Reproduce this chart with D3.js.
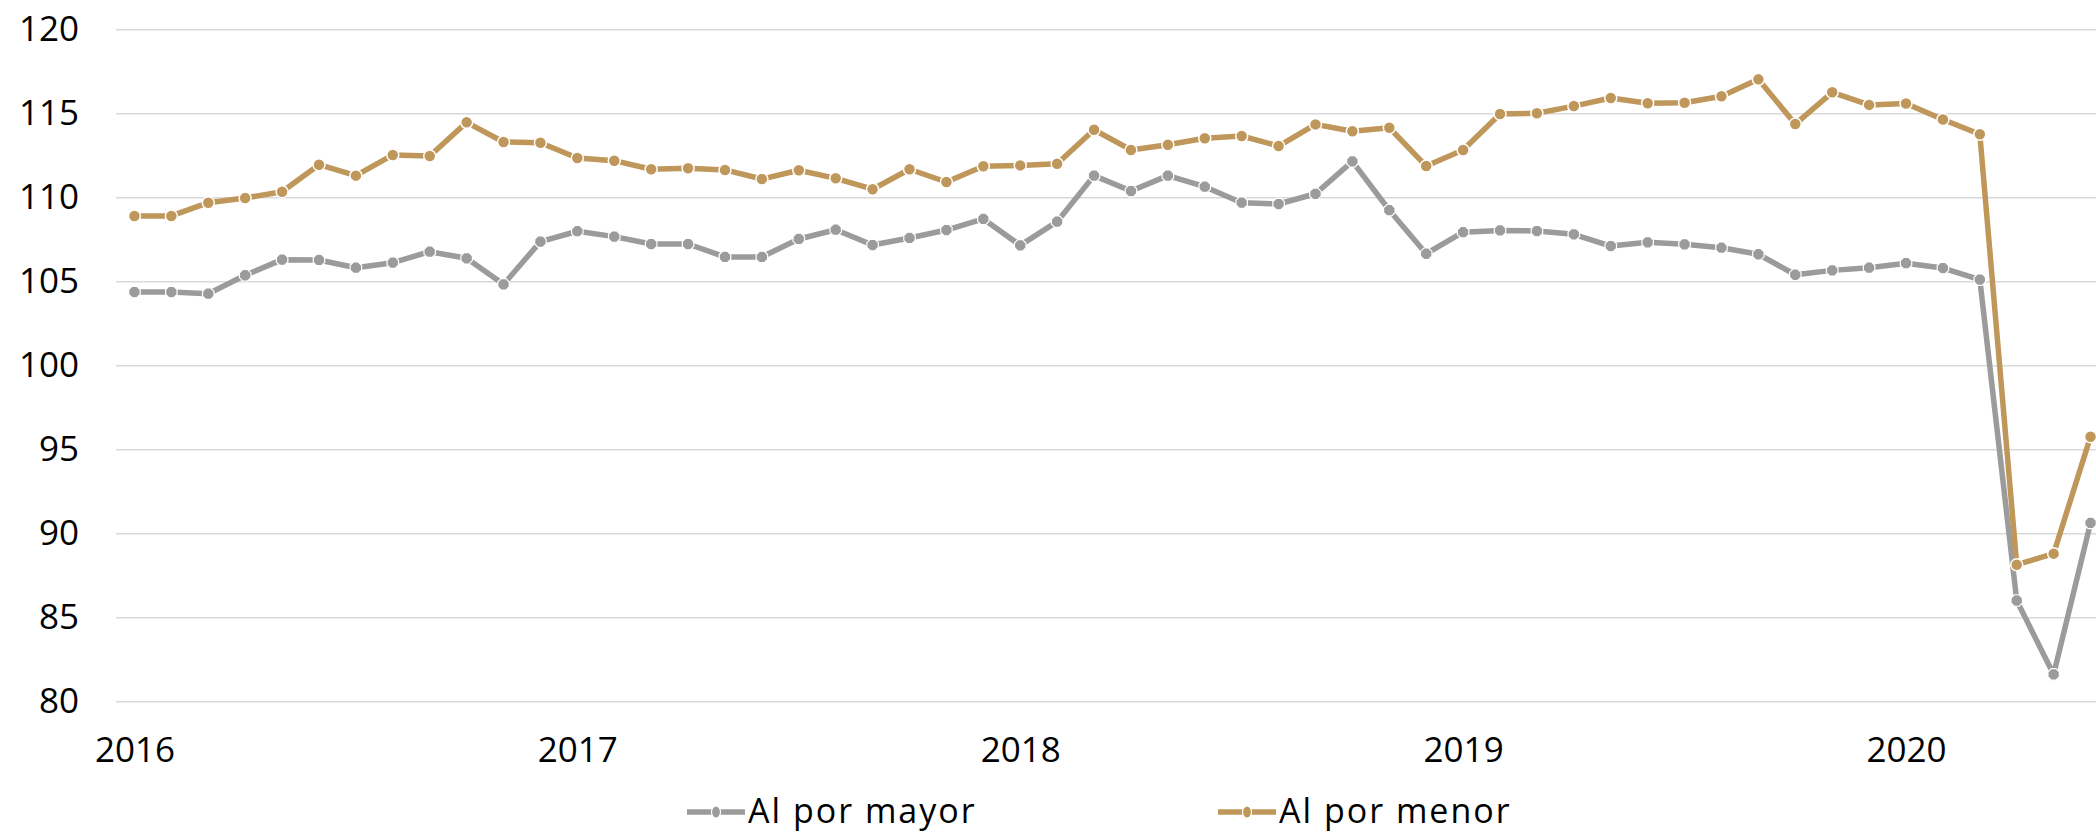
<!DOCTYPE html>
<html>
<head>
<meta charset="utf-8">
<script src="https://cdn.jsdelivr.net/npm/d3@7"></script>
<style>
  body { margin: 0; background: #ffffff; }
  svg { display: block; font-family: "Open Sans", "Noto Sans", sans-serif; }
</style>
</head>
<body>
<div id="chart"></div>
<script>
// ***** Data *****
var months = [
  "ene-16","feb-16","mar-16","abr-16","may-16","jun-16","jul-16","ago-16","sep-16","oct-16","nov-16","dic-16",
  "ene-17","feb-17","mar-17","abr-17","may-17","jun-17","jul-17","ago-17","sep-17","oct-17","nov-17","dic-17",
  "ene-18","feb-18","mar-18","abr-18","may-18","jun-18","jul-18","ago-18","sep-18","oct-18","nov-18","dic-18",
  "ene-19","feb-19","mar-19","abr-19","may-19","jun-19","jul-19","ago-19","sep-19","oct-19","nov-19","dic-19",
  "ene-20","feb-20","mar-20","abr-20","may-20","jun-20"
];

// Al por mayor (grey)
var mayor = [
  104.36, 104.36, 104.26, 105.36, 106.29, 106.27, 105.81, 106.11, 106.76, 106.37, 104.82, 107.36,
  107.98, 107.66, 107.22, 107.22, 106.45, 106.45, 107.52, 108.07, 107.16, 107.58, 108.05, 108.71,
  107.14, 108.55, 111.29, 110.37, 111.29, 110.63, 109.68, 109.60, 110.21, 112.14, 109.23, 106.64,
  107.92, 108.03, 107.99, 107.80, 107.10, 107.32, 107.20, 107.00, 106.61, 105.39, 105.65, 105.81,
  106.08, 105.79, 105.10, 86.00, 81.60, 90.62
];

// Al por menor (gold)
var menor = [
  108.89, 108.89, 109.68, 109.96, 110.33, 111.94, 111.29, 112.52, 112.46, 114.46, 113.29, 113.25,
  112.34, 112.18, 111.67, 111.73, 111.63, 111.09, 111.61, 111.13, 110.48, 111.67, 110.91, 111.85,
  111.90, 112.00, 114.02, 112.82, 113.13, 113.51, 113.65, 113.05, 114.34, 113.93, 114.14, 111.86,
  112.82, 114.96, 115.00, 115.43, 115.91, 115.60, 115.63, 116.01, 117.02, 114.36, 116.25, 115.50,
  115.58, 114.63, 113.75, 88.13, 88.79, 95.75
];

var yearTicks = ["ene-16", "ene-17", "ene-18", "ene-19", "ene-20"];
var yearLabels = ["2016", "2017", "2018", "2019", "2020"];
var yTicks = [80, 85, 90, 95, 100, 105, 110, 115, 120];
var seriesNames = ["Al por mayor", "Al por menor"];

// ***** Chart setup *****
var svgWidth = 2096;
var svgHeight = 833;
var plotLeft = 116;
var plotRight = 2109;   // last category is cut off by the picture edge
var plotTop = 29.3;
var plotBottom = 701.3;

var grey = "#9b9b9b";
var gold = "#c0975a";

var svg = d3.select("#chart").append("svg")
    .attr("width", svgWidth)
    .attr("height", svgHeight);

var xScale = d3.scalePoint()
    .domain(months)
    .range([plotLeft, plotRight])
    .padding(0.5);

var yScale = d3.scaleLinear()
    .domain([80, 120])
    .range([plotBottom, plotTop]);

// y axis + gridlines
var yAxis = svg.append("g")
    .attr("transform", `translate(${plotLeft}, 0)`)
    .call(d3.axisLeft(yScale)
        .tickValues(yTicks)
        .tickSize(-(svgWidth - plotLeft))
        .tickPadding(37));

yAxis.select(".domain").remove();
yAxis.selectAll(".tick line")
    .attr("stroke", "#d9d9d9")
    .attr("stroke-width", 1.5);
yAxis.selectAll(".tick text")
    .attr("fill", "#000")
    .attr("font-size", "35px")
    .attr("font-family", "'Open Sans', sans-serif");

// x axis (years only)
var xAxis = svg.append("g")
    .attr("transform", `translate(0, ${plotBottom})`)
    .call(d3.axisBottom(xScale)
        .tickValues(yearTicks)
        .tickFormat(function(d, i) { return yearLabels[i]; })
        .tickSize(0)
        .tickPadding(36));

xAxis.select(".domain").remove();
xAxis.selectAll(".tick text")
    .attr("fill", "#000")
    .attr("font-size", "35px")
    .attr("font-family", "'Open Sans', sans-serif");

// ***** Lines *****
var line = d3.line()
    .x(function(d, i) { return xScale(months[i]); })
    .y(function(d) { return yScale(d); });

// octagon marker for the grey series
function octagon(cx, cy, r) {
    var pts = d3.range(8).map(function(k) {
        var a = Math.PI / 8 + k * Math.PI / 4;
        return [cx + r * Math.cos(a), cy + r * Math.sin(a)];
    });
    return "M" + pts.join("L") + "Z";
}

function drawSeries(values, color, shape) {
    var g = svg.append("g");
    g.append("path")
        .datum(values)
        .attr("fill", "none")
        .attr("stroke", color)
        .attr("stroke-width", 5.5)
        .attr("stroke-linejoin", "round")
        .attr("d", line);

    if (shape === "circle") {
        g.selectAll("circle")
            .data(values)
            .enter()
            .append("circle")
            .attr("cx", function(d, i) { return xScale(months[i]); })
            .attr("cy", function(d) { return yScale(d); })
            .attr("r", 6)
            .attr("fill", color)
            .attr("stroke", "#fff")
            .attr("stroke-width", 1.5);
    } else {
        g.selectAll("path.marker")
            .data(values)
            .enter()
            .append("path")
            .classed("marker", true)
            .attr("d", function(d, i) { return octagon(xScale(months[i]), yScale(d), 6.2); })
            .attr("fill", color)
            .attr("stroke", "#fff")
            .attr("stroke-width", 1.2);
    }
}

drawSeries(mayor, grey, "octagon");
drawSeries(menor, gold, "circle");

// ***** Legend *****
var legendItems = [
    { name: seriesNames[0], color: grey, x: 687 },
    { name: seriesNames[1], color: gold, x: 1218 }
];
var legendY = 812;

legendItems.forEach(function(item) {
    var lg = svg.append("g");
    lg.append("line")
        .attr("x1", item.x)
        .attr("x2", item.x + 58)
        .attr("y1", legendY)
        .attr("y2", legendY)
        .attr("stroke", item.color)
        .attr("stroke-width", 5.5);
    lg.append("ellipse")
        .attr("cx", item.x + 29)
        .attr("cy", legendY)
        .attr("rx", 4.5)
        .attr("ry", 6)
        .attr("fill", item.color)
        .attr("stroke", "#fff")
        .attr("stroke-width", 1.2);
    lg.append("text")
        .attr("x", item.x + 61)
        .attr("y", legendY + 11)
        .attr("font-size", "34px")
        .attr("letter-spacing", "2px")
        .attr("fill", "#000")
        .text(item.name);
});
</script>
</body>
</html>
